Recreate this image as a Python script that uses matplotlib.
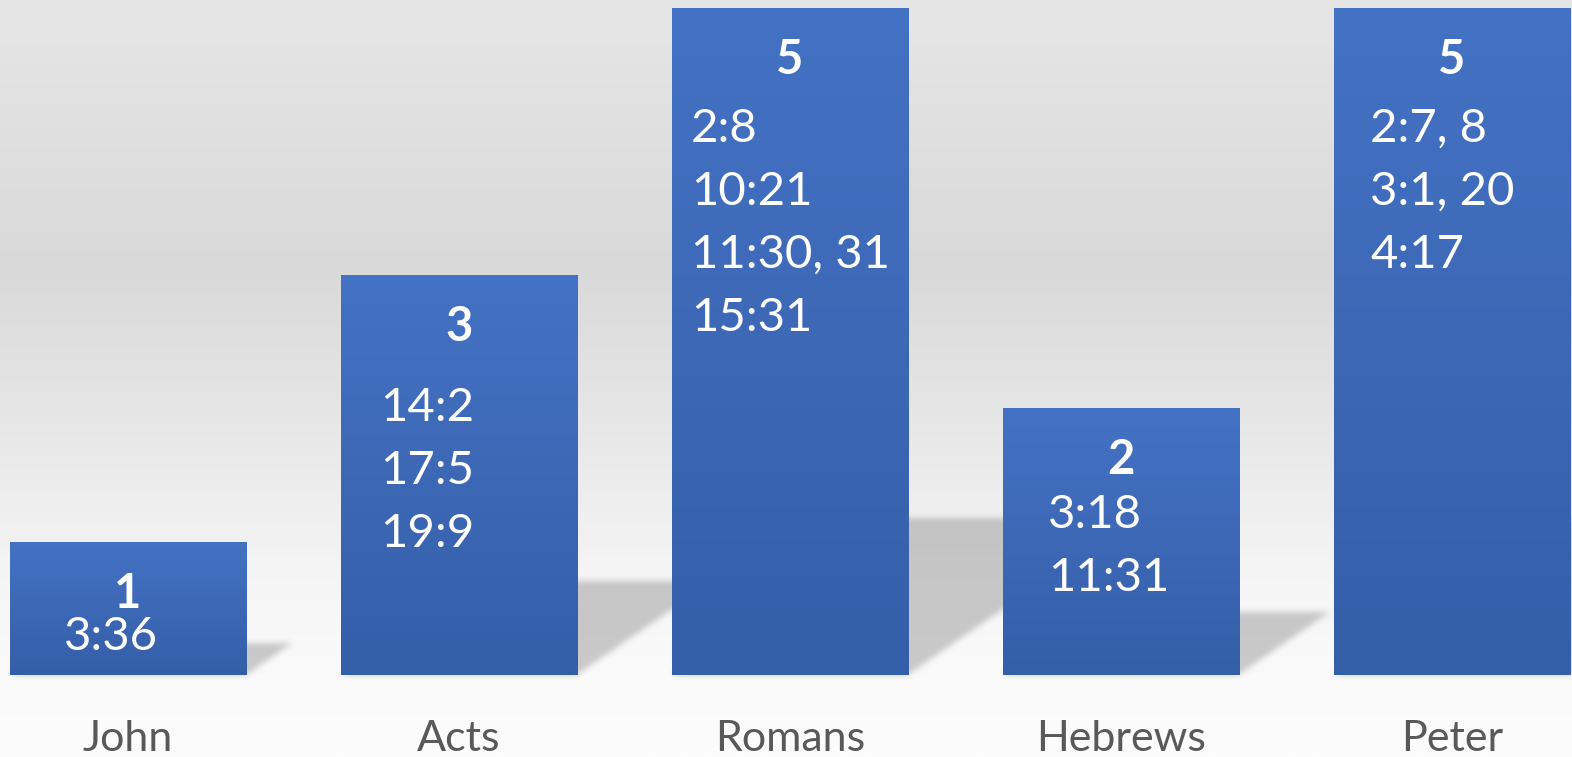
import numpy as np
import matplotlib
matplotlib.use("Agg")
import matplotlib.pyplot as plt
from matplotlib.colors import LinearSegmentedColormap

books = ["John", "Acts", "Romans", "Hebrews", "Peter"]
counts = [1, 3, 5, 2, 5]
verses = [
    ["3:36"],
    ["14:2", "17:5", "19:9"],
    ["2:8", "10:21", "11:30, 31", "15:31"],
    ["3:18", "11:31"],
    ["2:7, 8", "3:1, 20", "4:17"],
]

# label layout per bar, in pixels (left edge of verse block from bar centre,
# distance of first verse line below bar top)
verse_dx = [-64, -79, -99, -73, -82]
verse_first = [91, 129, 117, 103, 117]
LINE_GAP = 63

FONT = "Lato"
WHITE = "white"
LABEL_GREY = "#595959"

fig = plt.figure(figsize=(15.72, 7.57), dpi=100)
ax = fig.add_axes([0, 0, 1, 1])
XLIM = (-0.3867, 4.3625)
YLIM = (-0.6147, 5.060)
ax.axis("off")

# background gradient (top -> bottom)
bg = LinearSegmentedColormap.from_list(
    "bg",
    [(0.0, "#e6e6e6"), (0.357, "#d9d9d9"), (0.634, "#ececec"),
     (0.766, "#f5f5f5"), (0.892, "#fafafa"), (1.0, "#fcfcfc")],
)
ax.imshow(np.linspace(0, 1, 512).reshape(-1, 1), cmap=bg, aspect="auto",
          extent=[0, 1, 0, 1], transform=ax.transAxes, zorder=0)

x = np.arange(len(books))
width = 0.713

# soft perspective shadows behind the bars
SHADOW_RISE = 0.235
SHADOW_SLANT = 0.585
gx = np.linspace(XLIM[0], XLIM[1], 1572)
gy = np.linspace(YLIM[0], YLIM[1], 757)
GX, GY = np.meshgrid(gx, gy)
mask = np.zeros_like(GX)
for xi, v in zip(x, counts):
    top = SHADOW_RISE * v
    shift = GY * SHADOW_SLANT
    inside = (GY >= 0) & (GY <= top) & (GX - shift >= xi - width / 2) & (GX - shift <= xi + width / 2)
    mask[inside] = 1.0


def box_blur(a, r):
    k = np.ones(2 * r + 1) / (2 * r + 1)
    a = np.apply_along_axis(lambda m: np.convolve(m, k, mode="same"), 0, a)
    a = np.apply_along_axis(lambda m: np.convolve(m, k, mode="same"), 1, a)
    return a


mask = box_blur(box_blur(mask, 3), 3)
shadow = np.zeros(mask.shape + (4,))
shadow[..., :3] = 0.35
shadow[..., 3] = mask * 0.3
ax.imshow(shadow, origin="lower", aspect="auto",
          extent=[XLIM[0], XLIM[1], YLIM[0], YLIM[1]], zorder=1)

bars = ax.bar(x, counts, width=width, color="#3d68b6", zorder=2)
blue = LinearSegmentedColormap.from_list("blue", ["#355ea8", "#4472c4"])
for patch in bars.patches:
    x0, y0 = patch.get_x(), patch.get_y()
    im = ax.imshow(np.linspace(0, 1, 256).reshape(-1, 1), cmap=blue, origin="lower",
                   aspect="auto", extent=[x0, x0 + patch.get_width(), y0, y0 + patch.get_height()],
                   zorder=3)
    im.set_clip_path(patch)

for i, (xi, v) in enumerate(zip(x, counts)):
    ax.annotate(str(v), xy=(xi, v), xytext=(0, -66), textcoords="offset pixels",
                ha="center", va="baseline", color=WHITE, fontsize=34,
                fontweight="bold", family=FONT, zorder=5)
    for j, line in enumerate(verses[i]):
        ax.annotate(line, xy=(xi, v),
                    xytext=(verse_dx[i], -(verse_first[i] + 17 + j * LINE_GAP)),
                    textcoords="offset pixels", ha="left", va="baseline",
                    color=WHITE, fontsize=34, family=FONT, zorder=5)
    ax.annotate(books[i], xy=(xi, 0), xytext=(0, -76), textcoords="offset pixels",
                ha="center", va="baseline", color=LABEL_GREY, fontsize=31,
                family=FONT, zorder=5)

ax.set_xlim(*XLIM)
ax.set_ylim(*YLIM)
fig.savefig("out.png", dpi=100)
